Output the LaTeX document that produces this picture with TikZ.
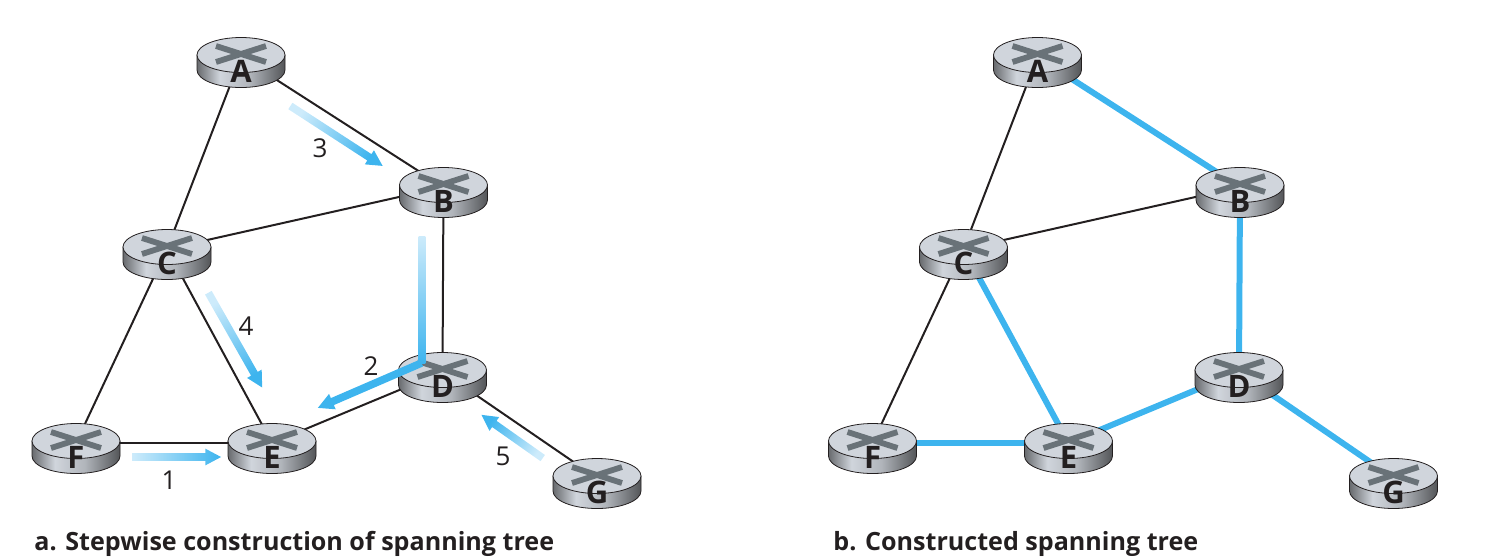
\documentclass[tikz,border=0pt]{standalone}
\usepackage{fontspec}
\setmainfont{Open Sans}
\usetikzlibrary{positioning}
\usetikzlibrary{backgrounds}
\usetikzlibrary{shapes.arrows}
\definecolor{treeblue}{HTML}{3DB4EE}
\definecolor{paleblue}{HTML}{CDEBFB}
\definecolor{routertop}{HTML}{D0D5DC}
\definecolor{routermark}{HTML}{697278}
\definecolor{inkblack}{HTML}{231F20}
\pgfdeclarehorizontalshading{routerside}{100bp}{
  color(0bp)=(black!55!routertop); color(25bp)=(black!50!routertop); color(38bp)=(routertop);
  color(55bp)=(black!15!routertop); color(75bp)=(black!60!routertop); color(100bp)=(black!60!routertop)}
\tikzset{
  routerbody/.pic = {
    \path[shading=routerside, draw=inkblack, line width=0.4pt]
      (-44,-2) -- (-44,13) arc[start angle=180, end angle=0, x radius=44, y radius=17.5] -- (44,-2) -- cycle;
    \fill[routertop, draw=inkblack, line width=0.4pt] (0,-2) ellipse [x radius=44, y radius=17.5];
    \draw[routermark, line width=2.9pt] (-25,-11) -- (25,5) (25,-11) -- (-25,5);
  },
  routernode/.style = {minimum size=0pt, inner sep=0pt, font=\bfseries\fontsize{15.5}{15.5}\selectfont, text=inkblack},
  thinlink/.style = {draw=inkblack, line width=1pt},
  treelink/.style = {draw=treeblue, line width=3pt},
  steparrow/.style = {single arrow, inner sep=1.7pt, minimum width=8pt, single arrow head extend=2.3pt,
    single arrow tip angle=56, single arrow head indent=0pt, draw=none, left color=paleblue, right color=treeblue},
  steplabel/.style = {font=\fontsize{13}{13}\selectfont, text=inkblack},
  caption/.style = {anchor=base west, inner sep=0pt, font=\bfseries\fontsize{12.55}{12.55}\selectfont, text=inkblack}
}
\newcommand{\router}[3]{
  \pic at (#2) {routerbody};
  \node[routernode, label={[routernode, yshift=-7pt]center:#3}] (#1) at (#2) {};
}
\begin{document}
\begin{tikzpicture}[x=0.5pt, y=-0.5pt]
  \useasboundingbox (0,0) rectangle (1498,559);

  % routers of both panels
  \foreach \panel/\dx in {a/0, b/796.5}{
    \begin{scope}[xshift=\dx*0.5pt, name prefix=\panel-]
      \router{A}{241,57}{A}
      \router{B}{443.5,187}{B}
      \router{C}{167,249}{C}
      \router{D}{442.5,372}{D}
      \router{E}{272,443}{E}
      \router{F}{76,443}{F}
      \router{G}{597,478}{G}
    \end{scope}
  }

  % links
  \begin{scope}[on background layer]
    \foreach \s/\t in {A/B, A/C, B/C, B/D, C/E, C/F, D/E, D/G, E/F}
      \draw[thinlink] (a-\s) -- (a-\t);
    \foreach \s/\t in {A/C, B/C, C/F}
      \draw[thinlink] (b-\s) -- (b-\t);
    \foreach \s/\t in {A/B, B/D, C/E, D/E, D/G, E/F}
      \draw[treelink] (b-\s) -- (b-\t);
  \end{scope}

  % numbered steps
  \node[steparrow, minimum height=44.5pt] (step1) at (173,457) {};
  \node[steparrow, minimum height=55pt, rotate=-33, shading angle=57] (step3) at (333.5,134) {};
  \node[steparrow, minimum height=54.5pt, rotate=-60.4, shading angle=29.6] (step4) at (233.5,337) {};
  \node[steparrow, minimum height=37.5pt, rotate=144.8, shading angle=-125.2] (step5) at (515,438.5) {};
  \node[rectangle, inner sep=0pt, minimum width=3.3pt, minimum height=63.5pt,
    top color=paleblue, bottom color=treeblue] (step2a) at (422,299.5) {};
  \node[steparrow, left color=treeblue, minimum height=56.5pt, rotate=203.4] (step2b) at (373,384) {};

  \node[steplabel] (num1) at (169,480) {1};
  \node[steplabel] (num2) at (371,366) {2};
  \node[steplabel] (num3) at (320,148) {3};
  \node[steplabel] (num4) at (246,326) {4};
  \node[steplabel] (num5) at (503,456) {5};

  \node[caption] (captiona) at (34,550) {a. Stepwise construction of spanning tree};
  \node[caption] (captionb) at (833,550) {b. Constructed spanning tree};
\end{tikzpicture}
\end{document}
